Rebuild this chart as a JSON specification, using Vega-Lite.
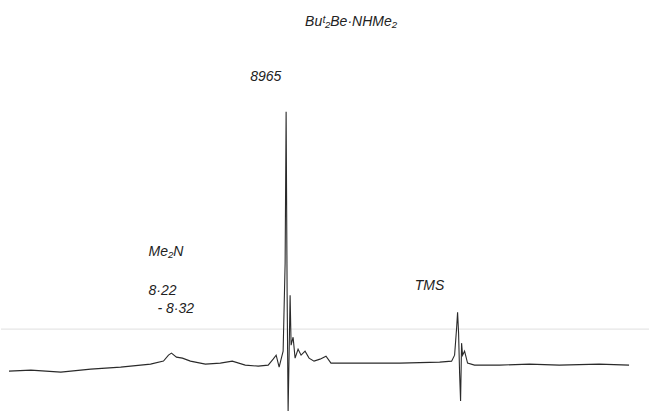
{
  "$schema": "https://vega.github.io/schema/vega-lite/v6.json",
  "width": 650,
  "height": 414,
  "autosize": {"type": "fit", "contains": "padding"},
  "padding": 0,
  "background": "white",
  "view": {"stroke": null},
  "config": {"axis": {"disable": true}},
  "layer": [
    {
      "data": {"values": [{"y": 84}]},
      "mark": {"type": "rule", "color": "#e6e6e6", "strokeWidth": 1.2},
      "encoding": {
        "y": {"field": "y", "type": "quantitative", "scale": {"domain": [0, 414]}}
      }
    },
    {
      "data": {"values": [
        {"i": 1, "x": 8, "y": 42}, {"i": 2, "x": 30, "y": 43}, {"i": 3, "x": 60, "y": 41},
        {"i": 4, "x": 90, "y": 44}, {"i": 5, "x": 120, "y": 46}, {"i": 6, "x": 150, "y": 49},
        {"i": 7, "x": 163, "y": 52}, {"i": 8, "x": 168, "y": 58}, {"i": 9, "x": 171, "y": 60},
        {"i": 10, "x": 176, "y": 56}, {"i": 11, "x": 182, "y": 55}, {"i": 12, "x": 190, "y": 52},
        {"i": 13, "x": 205, "y": 49}, {"i": 14, "x": 220, "y": 50}, {"i": 15, "x": 232, "y": 52},
        {"i": 16, "x": 245, "y": 48}, {"i": 17, "x": 258, "y": 47}, {"i": 18, "x": 268, "y": 48},
        {"i": 19, "x": 273, "y": 54}, {"i": 20, "x": 276, "y": 58}, {"i": 21, "x": 279, "y": 46},
        {"i": 22, "x": 283, "y": 62}, {"i": 23, "x": 285, "y": 150}, {"i": 24, "x": 286, "y": 302},
        {"i": 25, "x": 287, "y": 120}, {"i": 26, "x": 288, "y": 2}, {"i": 27, "x": 289, "y": 60},
        {"i": 28, "x": 290, "y": 118}, {"i": 29, "x": 291, "y": 68}, {"i": 30, "x": 293, "y": 76},
        {"i": 31, "x": 295, "y": 55}, {"i": 32, "x": 298, "y": 64}, {"i": 33, "x": 301, "y": 58},
        {"i": 34, "x": 305, "y": 62}, {"i": 35, "x": 309, "y": 55}, {"i": 36, "x": 314, "y": 52},
        {"i": 37, "x": 320, "y": 54}, {"i": 38, "x": 326, "y": 57}, {"i": 39, "x": 331, "y": 50},
        {"i": 40, "x": 360, "y": 50}, {"i": 41, "x": 400, "y": 50}, {"i": 42, "x": 440, "y": 51},
        {"i": 43, "x": 452, "y": 52}, {"i": 44, "x": 455, "y": 58}, {"i": 45, "x": 457, "y": 85},
        {"i": 46, "x": 458, "y": 101}, {"i": 47, "x": 459, "y": 80}, {"i": 48, "x": 460, "y": 40},
        {"i": 49, "x": 461, "y": 12}, {"i": 50, "x": 462, "y": 70}, {"i": 51, "x": 463, "y": 58},
        {"i": 52, "x": 465, "y": 62}, {"i": 53, "x": 468, "y": 50}, {"i": 54, "x": 475, "y": 48},
        {"i": 55, "x": 500, "y": 48}, {"i": 56, "x": 530, "y": 49}, {"i": 57, "x": 560, "y": 48},
        {"i": 58, "x": 600, "y": 49}, {"i": 59, "x": 630, "y": 48}
      ]},
      "mark": {"type": "line", "color": "#2a2a2a", "strokeWidth": 1.1, "interpolate": "linear"},
      "encoding": {
        "x": {"field": "x", "type": "quantitative", "scale": {"domain": [0, 650]}},
        "y": {"field": "y", "type": "quantitative", "scale": {"domain": [0, 414]}},
        "order": {"field": "i", "type": "quantitative"}
      }
    },
    {
      "data": {"values": [
        {"t": "Buᵗ₂Be·NHMe₂", "x": 305, "y": 392},
        {"t": "8965", "x": 250, "y": 337},
        {"t": "Me₂N", "x": 148, "y": 161},
        {"t": "8·22", "x": 148, "y": 122},
        {"t": "- 8·32", "x": 157, "y": 104},
        {"t": "TMS", "x": 415, "y": 127}
      ]},
      "mark": {"type": "text", "font": "Liberation Sans", "fontStyle": "italic", "fontSize": 14, "color": "#222", "align": "left", "baseline": "middle"},
      "encoding": {
        "x": {"field": "x", "type": "quantitative", "scale": {"domain": [0, 650]}},
        "y": {"field": "y", "type": "quantitative", "scale": {"domain": [0, 414]}},
        "text": {"field": "t", "type": "nominal"}
      }
    }
  ]
}
